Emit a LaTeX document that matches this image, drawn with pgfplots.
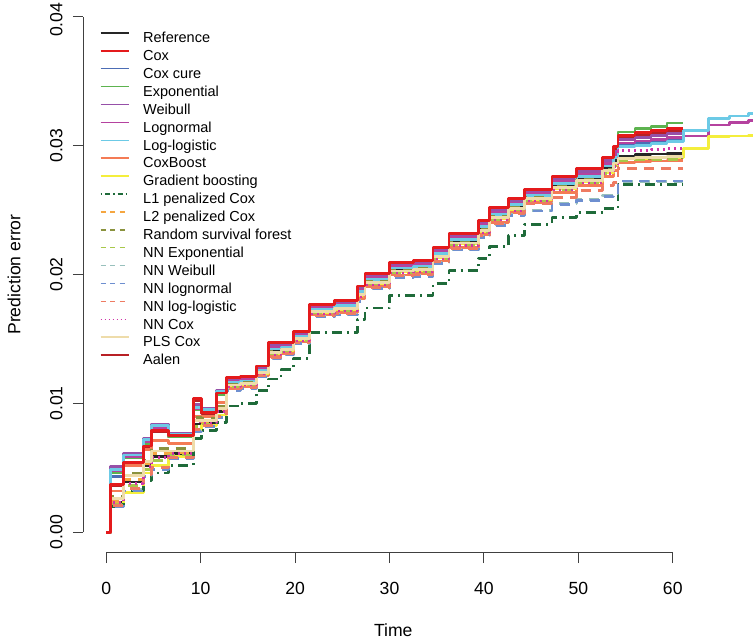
\documentclass[border=0pt]{standalone}
\usepackage{fontspec}
\setmainfont{Liberation Sans}
\usepackage{pgfplots}
\usepackage{pgfplotstable}
\pgfplotsset{compat=1.18}
\newcommand{\ticksize}{\fontsize{17.6}{21}\selectfont}
\newcommand{\legsize}{\fontsize{14.5}{17.9}\selectfont}
\definecolor{cRef}{HTML}{262626}
\definecolor{cCox}{HTML}{E41A1C}
\definecolor{cCure}{HTML}{4C6DB5}
\definecolor{cExp}{HTML}{5DB34F}
\definecolor{cWei}{HTML}{9650A8}
\definecolor{cLno}{HTML}{B5429F}
\definecolor{cLlo}{HTML}{6CCAE6}
\definecolor{cCB}{HTML}{F47B55}
\definecolor{cGB}{HTML}{F4EE3C}
\definecolor{cLone}{HTML}{1F6B3A}
\definecolor{cLtwo}{HTML}{F5A640}
\definecolor{cRSF}{HTML}{8A923E}
\definecolor{cNNE}{HTML}{A8C84A}
\definecolor{cNNW}{HTML}{98C0BC}
\definecolor{cNNL}{HTML}{6E8FD0}
\definecolor{cNNLL}{HTML}{EE7B62}
\definecolor{cNNC}{HTML}{D034A8}
\definecolor{cPLS}{HTML}{EEDCAA}
\definecolor{cAal}{HTML}{B82025}
\pgfplotstableread{
t ref cox cure expo weib lnorm llog cboost gb l1 l2 rsf nnexp nnweib nnlnorm nnllog nncox pls aalen
0 0 0 0 0 0 0 0 0 0 0 0 0 0 0 0 0 0 0 0
0.47 0.0023 0.0037 0.0043 0.0046 0.0051 0.0048 0.0049 0.0032 0.0021 0.0020 0.0024 0.0028 0.0022 0.0020 0.0020 0.0021 0.0023 0.0026 0.0036
1.8 0.0039 0.0054 0.0060 0.0058 0.0061 0.0059 0.0060 0.0052 0.0031 0.0032 0.0041 0.0046 0.0036 0.0033 0.0032 0.0034 0.0038 0.0044 0.0053
3.9 0.0052 0.0067 0.0070 0.0069 0.0073 0.0070 0.0072 0.0064 0.0046 0.0040 0.0053 0.0056 0.0049 0.0044 0.0043 0.0045 0.0051 0.0055 0.0066
4.8 0.0059 0.0079 0.0081 0.0080 0.0084 0.0081 0.0083 0.00715 0.0052 0.0046 0.0061 0.0065 0.0056 0.0049 0.0049 0.0050 0.0058 0.0063 0.0078
6.6 0.0061 0.0075 0.0075 0.0074 0.0077 0.0075 0.0076 0.0069 0.0059 0.0052 0.0062 0.0065 0.0060 0.0057 0.0057 0.0058 0.0061 0.0063 0.0074
9.2 0.0084 0.0104 0.0098 0.0095 0.0099 0.0096 0.0097 0.0090 0.0080 0.0073 0.0085 0.0089 0.0082 0.0079 0.0078 0.0080 0.0086 0.0087 0.0102
10.1 0.0085 0.0093 0.0095 0.0094 0.0096 0.0094 0.0095 0.0090 0.0083 0.0079 0.0086 0.0088 0.0084 0.0082 0.0082 0.0083 0.0085 0.0087 0.0092
11.7 0.0094 0.0108 0.0108 0.0107 0.0110 0.0108 0.0109 0.0101 0.0091 0.0085 0.0095 0.0098 0.0093 0.0090 0.0089 0.0090 0.0094 0.0096 0.0107
12.75 0.01152 0.01200 0.01169 0.01178 0.01185 0.01174 0.01163 0.01116 0.01136 0.00980 0.01134 0.01147 0.01132 0.01105 0.01101 0.01112 0.01130 0.01143 0.01193
14.2 0.01164 0.01210 0.01181 0.01189 0.01195 0.01185 0.01174 0.01130 0.01149 0.01000 0.01147 0.01160 0.01145 0.01120 0.01116 0.01126 0.01143 0.01155 0.01204
15.9 0.01248 0.01290 0.01263 0.01271 0.01277 0.01267 0.01258 0.01218 0.01235 0.01100 0.01233 0.01244 0.01231 0.01208 0.01205 0.01214 0.01229 0.01241 0.01284
17.2 0.01408 0.01470 0.01431 0.01442 0.01450 0.01436 0.01422 0.01364 0.01389 0.01190 0.01386 0.01403 0.01383 0.01350 0.01344 0.01358 0.01380 0.01397 0.01462
18.5 0.01424 0.01470 0.01441 0.01449 0.01455 0.01445 0.01434 0.01390 0.01409 0.01260 0.01407 0.01420 0.01405 0.01380 0.01376 0.01386 0.01403 0.01415 0.01464
19.8 0.01510 0.01555 0.01526 0.01535 0.01541 0.01530 0.01520 0.01477 0.01496 0.01350 0.01494 0.01506 0.01491 0.01467 0.01463 0.01473 0.01489 0.01502 0.01549
21.5 0.01721 0.01770 0.01739 0.01748 0.01754 0.01743 0.01732 0.01685 0.01705 0.01547 0.01703 0.01716 0.01701 0.01674 0.01670 0.01681 0.01699 0.01712 0.01763
24.2 0.01744 0.01800 0.01765 0.01775 0.01782 0.01770 0.01757 0.01704 0.01727 0.01547 0.01724 0.01739 0.01722 0.01691 0.01686 0.01699 0.01719 0.01734 0.01792
26.6 0.01853 0.01910 0.01874 0.01884 0.01892 0.01879 0.01866 0.01811 0.01835 0.01650 0.01832 0.01848 0.01829 0.01798 0.01793 0.01806 0.01827 0.01842 0.01902
27.4 0.01951 0.02010 0.01972 0.01983 0.01991 0.01978 0.01964 0.01907 0.01932 0.01740 0.01929 0.01945 0.01926 0.01894 0.01889 0.01902 0.01924 0.01940 0.02002
30.0 0.02038 0.02095 0.02059 0.02069 0.02077 0.02064 0.02051 0.01996 0.02020 0.01835 0.02017 0.02033 0.02014 0.01983 0.01978 0.01991 0.02012 0.02027 0.02087
32.5 0.02050 0.02110 0.02072 0.02083 0.02091 0.02077 0.02063 0.02006 0.02030 0.01835 0.02028 0.02044 0.02025 0.01992 0.01986 0.02000 0.02022 0.02039 0.02102
34.6 0.02148 0.02210 0.02171 0.02182 0.02190 0.02176 0.02162 0.02104 0.02129 0.01930 0.02126 0.02143 0.02123 0.02090 0.02084 0.02098 0.02120 0.02137 0.02202
36.3 0.02256 0.02320 0.02279 0.02291 0.02300 0.02285 0.02271 0.02210 0.02236 0.02030 0.02233 0.02250 0.02230 0.02195 0.02190 0.02204 0.02227 0.02245 0.02311
39.4 0.02355 0.02420 0.02379 0.02391 0.02399 0.02385 0.02370 0.02308 0.02334 0.02125 0.02332 0.02349 0.02329 0.02293 0.02287 0.02302 0.02326 0.02343 0.02411
40.6 0.02453 0.02520 0.02477 0.02490 0.02499 0.02483 0.02468 0.02404 0.02432 0.02215 0.02429 0.02447 0.02425 0.02389 0.02383 0.02398 0.02422 0.02441 0.02511
42.6 0.02526 0.02590 0.02549 0.02561 0.02570 0.02555 0.02541 0.02480 0.02506 0.02300 0.02503 0.02520 0.02500 0.02465 0.02460 0.02474 0.02497 0.02515 0.02581
44.3 0.02601 0.02660 0.02622 0.02633 0.02641 0.02628 0.02614 0.02557 0.02582 0.02390 0.02579 0.02595 0.02576 0.02498 0.02493 0.02552 0.02574 0.02590 0.02652
47.2 0.02690 0.02760 0.02715 0.02728 0.02738 0.02722 0.02706 0.02638 0.02667 0.02440 0.02664 0.02683 0.02661 0.02552 0.02546 0.02600 0.02658 0.02677 0.02750
49.8 0.02745 0.02820 0.02772 0.02786 0.02796 0.02779 0.02762 0.02691 0.02721 0.02480 0.02718 0.02738 0.02715 0.02582 0.02575 0.02650 0.02711 0.02732 0.02810
52.6 0.02822 0.02910 0.02854 0.02870 0.02882 0.02862 0.02842 0.02758 0.02794 0.02510 0.02790 0.02814 0.02786 0.02610 0.02602 0.02690 0.02782 0.02806 0.02898
53.7 0.02884 0.02990 0.02923 0.02942 0.02956 0.02932 0.02908 0.02808 0.02851 0.02510 0.02846 0.02875 0.02841 0.02630 0.02620 0.02712 0.02836 0.02865 0.02976
54.2 0.02920 0.03080 0.03000 0.03105 0.03050 0.03020 0.02990 0.02870 0.02900 0.02700 0.02890 0.02900 0.02885 0.02720 0.02725 0.02820 0.02960 0.02900 0.03060
56.0 0.02930 0.03100 0.03015 0.03130 0.03065 0.03035 0.03000 0.02875 0.02900 0.02700 0.02895 0.02900 0.02890 0.02720 0.02725 0.02820 0.02965 0.02905 0.03080
57.7 0.02935 0.03115 0.03030 0.03150 0.03080 0.03050 0.03015 0.02880 0.02905 0.02700 0.02900 0.02905 0.02890 0.02720 0.02725 0.02820 0.02970 0.02910 0.03095
59.4 0.02940 0.03130 0.03040 0.03175 0.03095 0.03060 0.03030 0.02885 0.02910 0.02700 0.02900 0.02905 0.02895 0.02720 0.02725 0.02820 0.02975 0.02915 0.03110
61.1 0.02940 0.03130 0.03040 0.03175 0.03095 0.03075 0.03120 0.02885 0.02980 0.02700 0.02900 0.02905 0.02895 0.02720 0.02725 0.02820 0.02975 0.02915 0.03110
63.8 nan nan nan nan nan 0.03160 0.03210 nan 0.03070 nan nan nan nan nan nan nan nan nan nan
66.0 nan nan nan nan nan 0.03180 0.03230 nan 0.03075 nan nan nan nan nan nan nan nan nan nan
68.0 nan nan nan nan nan 0.03195 0.03250 nan 0.03080 nan nan nan nan nan nan nan nan nan nan
70.0 nan nan nan nan nan 0.03195 0.03250 nan 0.03080 nan nan nan nan nan nan nan nan nan nan
}\pe
\begin{document}
\begin{tikzpicture}
\useasboundingbox (-83.3pt,-86.3pt) rectangle (669.7pt,552.7pt);
\begin{axis}[
 at={(0pt,0pt)}, anchor=south west,
 scale only axis, width=669.7pt, height=552.7pt,
 xmin=-2.436, xmax=68.5, ymin=-0.001583, ymax=0.041296,
 clip=false,
 axis lines*=left,
 axis line style={draw=none},
 xtick={0,10,20,30,40,50,60}, xticklabels={0,10,20,30,40,50,60},
 ytick={0,0.01,0.02,0.03}, yticklabels={0.00,0.01,0.02,0.03},
 extra y ticks={0.04}, extra y tick labels={0.04},
 extra y tick style={yticklabel style={xshift=-3pt}},
 tick align=outside, major tick length=10.5pt,
 tick style={black!75, line width=0.9pt},
 xticklabel style={font=\ticksize, anchor=base, inner sep=0pt, yshift=-31.5pt},
 yticklabel style={font=\ticksize, xshift=-10.5pt, rotate=90, anchor=base, inner sep=0pt},
 xlabel={Time}, ylabel={Prediction error},
 every axis x label/.style={at={(axis cs:30.4,-0.001583)}, yshift=-84pt, anchor=base, inner sep=0pt, font=\ticksize},
 every axis y label/.style={at={(axis cs:-2.436,0.02)}, xshift=-63pt, rotate=90, anchor=base, inner sep=0pt, font=\ticksize},
 no markers,
 every axis plot/.append style={const plot, line width=2.8pt, line join=round},
 legend style={at={(rel axis cs:0,1)}, anchor=north west, xshift=16.7pt, yshift=-31.7pt,
   draw=none, fill=none, inner sep=0pt, outer sep=0pt, row sep=0pt, column sep=13.7pt,
   font=\legsize, nodes={inner sep=0pt, outer sep=0pt, text height=11pt, text depth=6.9pt}},
 legend cell align=left,
 legend image code/.code={\draw[#1] (0pt,7.7pt) -- (28pt,7.7pt);},
]
\draw[black!75, line width=0.9pt] (axis cs:0,-0.001583) -- (axis cs:60,-0.001583);
\draw[black!75, line width=0.9pt] (axis cs:-2.436,0) -- (axis cs:-2.436,0.04);

\addplot[cAal, forget plot] table[x=t, y=aalen]{\pe};
\addplot[cRef, forget plot] table[x=t, y=ref]{\pe};
\addplot[cCure, forget plot] table[x=t, y=cure]{\pe};
\addplot[cExp, forget plot] table[x=t, y=expo]{\pe};
\addplot[cWei, forget plot] table[x=t, y=weib]{\pe};
\addplot[cLno, forget plot] table[x=t, y=lnorm]{\pe};
\addplot[cLlo, forget plot] table[x=t, y=llog]{\pe};
\addplot[cCB, forget plot] table[x=t, y=cboost]{\pe};
\addplot[cGB, forget plot] table[x=t, y=gb]{\pe};
\addplot[cLone, forget plot, dash pattern=on 2pt off 5pt on 10pt off 5pt] table[x=t, y=l1]{\pe};
\addplot[cLtwo, forget plot, dash pattern=on 10pt off 7pt] table[x=t, y=l2]{\pe};
\addplot[cRSF, forget plot, dash pattern=on 10pt off 7pt] table[x=t, y=rsf]{\pe};
\addplot[cNNE, forget plot, dash pattern=on 10pt off 7pt] table[x=t, y=nnexp]{\pe};
\addplot[cNNW, forget plot, dash pattern=on 10pt off 7pt] table[x=t, y=nnweib]{\pe};
\addplot[cNNL, forget plot, dash pattern=on 10pt off 7pt] table[x=t, y=nnlnorm]{\pe};
\addplot[cNNLL, forget plot, dash pattern=on 10pt off 7pt] table[x=t, y=nnllog]{\pe};
\addplot[cNNC, forget plot, dash pattern=on 2pt off 4pt] table[x=t, y=nncox]{\pe};
\addplot[cPLS, forget plot] table[x=t, y=pls]{\pe};
\addplot[cCox, forget plot] table[x=t, y=cox]{\pe};

\addlegendimage{cRef, line width=1.5pt}\addlegendentry{Reference}
\addlegendimage{cCox, line width=1.5pt}\addlegendentry{Cox}
\addlegendimage{cCure, line width=1.5pt}\addlegendentry{Cox cure}
\addlegendimage{cExp, line width=1.5pt}\addlegendentry{Exponential}
\addlegendimage{cWei, line width=1.5pt}\addlegendentry{Weibull}
\addlegendimage{cLno, line width=1.5pt}\addlegendentry{Lognormal}
\addlegendimage{cLlo, line width=1.5pt}\addlegendentry{Log-logistic}
\addlegendimage{cCB, line width=1.5pt}\addlegendentry{CoxBoost}
\addlegendimage{cGB, line width=1.5pt}\addlegendentry{Gradient boosting}
\addlegendimage{cLone, line width=1.5pt, dash pattern=on 1.5pt off 3pt on 5pt off 3pt}\addlegendentry{L1 penalized Cox}
\addlegendimage{cLtwo, line width=1.5pt, dash pattern=on 5pt off 4.5pt}\addlegendentry{L2 penalized Cox}
\addlegendimage{cRSF, line width=1.5pt, dash pattern=on 5pt off 4.5pt}\addlegendentry{Random survival forest}
\addlegendimage{cNNE, line width=1.5pt, dash pattern=on 5pt off 4.5pt}\addlegendentry{NN Exponential}
\addlegendimage{cNNW, line width=1.5pt, dash pattern=on 5pt off 4.5pt}\addlegendentry{NN Weibull}
\addlegendimage{cNNL, line width=1.5pt, dash pattern=on 5pt off 4.5pt}\addlegendentry{NN lognormal}
\addlegendimage{cNNLL, line width=1.5pt, dash pattern=on 5pt off 4.5pt}\addlegendentry{NN log-logistic}
\addlegendimage{cNNC, line width=1.5pt, dash pattern=on 1.5pt off 2.5pt}\addlegendentry{NN Cox}
\addlegendimage{cPLS, line width=1.5pt}\addlegendentry{PLS Cox}
\addlegendimage{cAal, line width=1.5pt}\addlegendentry{Aalen}
\end{axis}
\end{tikzpicture}
\end{document}
